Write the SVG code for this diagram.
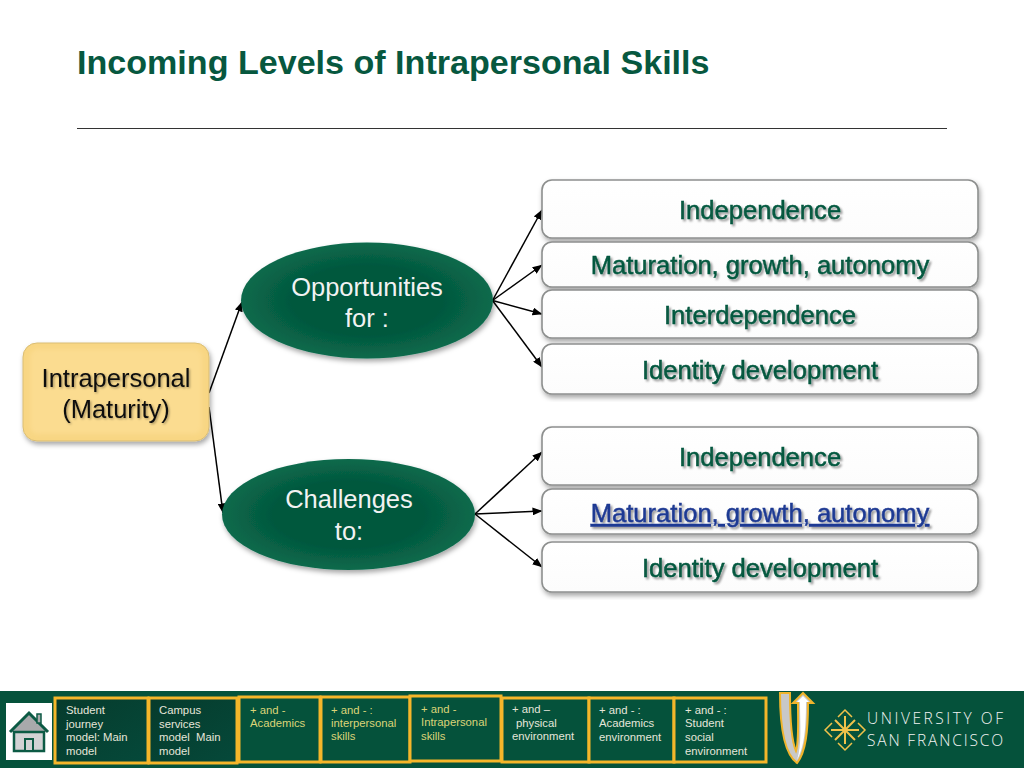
<svg xmlns="http://www.w3.org/2000/svg" width="1024" height="768" viewBox="0 0 1024 768">
<defs>
<radialGradient id="ell" cx="50%" cy="50%" r="50%"><stop offset="0" stop-color="#04583e"/><stop offset="0.6" stop-color="#04583e"/><stop offset="1" stop-color="#0a6a4c"/></radialGradient>
<linearGradient id="dark" x1="0" y1="0" x2="1" y2="1"><stop offset="0" stop-color="#063b2c"/><stop offset="1" stop-color="#05493a"/></linearGradient>
<linearGradient id="boxf" x1="0" y1="0" x2="0" y2="1"><stop offset="0" stop-color="#fff"/><stop offset="1" stop-color="#fcfcfc"/></linearGradient>
<filter id="sh" x="-10%" y="-10%" width="120%" height="125%"><feDropShadow dx="1.5" dy="3" stdDeviation="2.5" flood-color="#000" flood-opacity="0.35"/></filter>
<filter id="ts" x="-5%" y="-20%" width="110%" height="150%"><feDropShadow dx="2" dy="2" stdDeviation="1.3" flood-color="#000" flood-opacity="0.42"/></filter>
<filter id="ts2" x="-5%" y="-20%" width="110%" height="150%"><feDropShadow dx="1.2" dy="1.2" stdDeviation=".8" flood-color="#000" flood-opacity="0.35"/></filter>
<filter id="soft" x="-5%" y="-5%" width="110%" height="110%"><feGaussianBlur stdDeviation="2"/></filter>
<marker id="ah" markerWidth="10" markerHeight="8" refX="9.500" refY="4" orient="auto" markerUnits="userSpaceOnUse"><path d="M0 0L10 4L0 8Z" fill="#000"/></marker>
</defs>
<style>
text{font-family:"Liberation Sans",Arial,sans-serif}
.box{fill:url(#boxf);stroke:#8d8f8e;stroke-width:1.6}
.lbl{font-size:25.6px;fill:#07583f;text-anchor:middle;filter:url(#ts);stroke:#07583f;stroke-width:.5}
.ov{font-size:25.500px;fill:#f2f2f2;text-anchor:middle}
.cn{stroke:#000;stroke-width:1.500;fill:none;marker-end:url(#ah)}
.tile{stroke:#f5b62a;stroke-width:3;fill:#05523b}
.t1{font-size:11.3px;fill:#e6e6da}
.t2{font-size:11.3px;fill:#dcd478}
.uni{font-family:"Open Sans","Liberation Sans",sans-serif;font-weight:300;font-size:15.5px;fill:#f2f2f2}
</style>
<rect width="1024" height="768" fill="#fff"/>
<text x="77" y="74" font-size="34.100" font-weight="bold" fill="#07583f">Incoming Levels of Intrapersonal Skills</text>
<line x1="77" y1="128.500" x2="947" y2="128.500" stroke="#333" stroke-width="1"/>

<g id="connectors">
<path class="cn" d="M209 393L242 302"/>
<path class="cn" d="M209 407L223 513"/>
<path class="cn" d="M492.500 300.500L542 210"/>
<path class="cn" d="M492.500 300.500L542 265"/>
<path class="cn" d="M492.500 300.500L542 314"/>
<path class="cn" d="M492.500 300.500L542 367"/>
<path class="cn" d="M475 514L542 452"/>
<path class="cn" d="M475 514L542 511"/>
<path class="cn" d="M475 514L542 567"/>
</g>

<g id="n-opportunities"><ellipse cx="367" cy="300.500" rx="126" ry="58" fill="url(#ell)" filter="url(#sh)"/><text class="ov" x="367" y="296">Opportunities</text><text class="ov" x="367" y="327">for :</text></g>
<g id="n-challenges"><ellipse cx="348.500" cy="514.500" rx="126.500" ry="55.500" fill="url(#ell)" filter="url(#sh)"/><text class="ov" x="349" y="508">Challenges</text><text class="ov" x="349" y="540">to:</text></g>
<g id="n-intrapersonal"><rect x="23" y="343" width="186" height="98" rx="14" fill="#f8d683" stroke="#d9bd74" stroke-width="1" filter="url(#sh)"/><rect x="30" y="349" width="172" height="85" rx="8" fill="#fbdc90" filter="url(#soft)"/><text x="116" y="387" font-size="25.500" fill="#111" text-anchor="middle" filter="url(#ts2)">Intrapersonal</text><text x="116" y="418" font-size="25.500" fill="#111" text-anchor="middle" filter="url(#ts2)">(Maturity)</text></g>

<g id="n-a1"><rect class="box" x="542" y="180" width="436" height="58" rx="10" filter="url(#sh)"/><text class="lbl" x="760" y="219">Independence</text></g>
<g id="n-a2"><rect class="box" x="542" y="242" width="436" height="45" rx="10" filter="url(#sh)"/><text class="lbl" x="760" y="274">Maturation, growth, autonomy</text></g>
<g id="n-a3"><rect class="box" x="542" y="290" width="436" height="48" rx="10" filter="url(#sh)"/><text class="lbl" x="760" y="324">Interdependence</text></g>
<g id="n-a4"><rect class="box" x="542" y="344" width="436" height="50" rx="10" filter="url(#sh)"/><text class="lbl" x="760" y="379">Identity development</text></g>
<g id="n-b1"><rect class="box" x="542" y="427" width="436" height="58" rx="10" filter="url(#sh)"/><text class="lbl" x="760" y="466">Independence</text></g>
<g id="n-b2"><rect class="box" x="542" y="489" width="436" height="45" rx="10" filter="url(#sh)"/><text x="760" y="522" font-size="25.600" fill="#1f3a93" text-anchor="middle" text-decoration="underline" filter="url(#ts)" stroke="#1f3a93" stroke-width=".5">Maturation, growth, autonomy</text></g>
<g id="n-b3"><rect class="box" x="542" y="542" width="436" height="50" rx="10" filter="url(#sh)"/><text class="lbl" x="760" y="577">Identity development</text></g>

<g id="footer">
<rect x="0" y="691" width="1024" height="77" fill="#05523b"/>
<rect x="6" y="703" width="46" height="57" fill="#fff"/>
<g id="home"><path d="M10 732L29 713L48 732" fill="#a9a9ab" stroke="#0c5a44" stroke-width="3"/><rect x="37" y="714" width="4" height="9" fill="#a9a9ab" stroke="#0c5a44" stroke-width="1.500"/><rect x="14" y="732" width="30" height="19" fill="#d2d2d4" stroke="#0c5a44" stroke-width="2.500"/><rect x="25" y="739" width="8" height="12" fill="#d2d2d4" stroke="#0c5a44" stroke-width="2"/></g>
<g id="t1"><rect class="tile" x="55" y="698" width="93" height="65" style="fill:url(#dark)"/><text class="t1" x="66" y="714">Student</text><text class="t1" x="66" y="728">journey</text><text class="t1" x="66" y="741">model: Main</text><text class="t1" x="66" y="755">model</text></g>
<g id="t2"><rect class="tile" x="149" y="698" width="88" height="65" style="fill:url(#dark)"/><text class="t1" x="159" y="714">Campus</text><text class="t1" x="159" y="728">services</text><text class="t1" x="159" y="741" xml:space="preserve">model  Main</text><text class="t1" x="159" y="755">model</text></g>
<g id="t3"><rect class="tile" x="239" y="697" width="81" height="65"/><text class="t2" x="250" y="714">+ and -</text><text class="t2" x="250" y="727">Academics</text></g>
<g id="t4"><rect class="tile" x="321" y="697" width="89" height="65"/><text class="t2" x="331" y="714">+ and - :</text><text class="t2" x="331" y="727">interpersonal</text><text class="t2" x="331" y="740">skills</text></g>
<g id="t5"><rect class="tile" x="410" y="696" width="91" height="65"/><text class="t2" x="421" y="713">+ and -</text><text class="t2" x="421" y="726">Intrapersonal</text><text class="t2" x="421" y="740">skills</text></g>
<g id="t6"><rect class="tile" x="502" y="698" width="87" height="64"/><text class="t1" x="512" y="713">+ and –</text><text class="t1" x="516" y="727">physical</text><text class="t1" x="512" y="740">environment</text></g>
<g id="t7"><rect class="tile" x="589" y="698" width="85" height="64"/><text class="t1" x="599" y="714">+ and - :</text><text class="t1" x="599" y="727">Academics</text><text class="t1" x="599" y="741">environment</text></g>
<g id="t8"><rect class="tile" x="674" y="698" width="92" height="64"/><text class="t1" x="685" y="714">+ and - :</text><text class="t1" x="685" y="727">Student</text><text class="t1" x="685" y="741">social</text><text class="t1" x="685" y="755">environment</text></g>
<g id="uturn"><path d="M780 693H790C790 720 792 742 796 751C799 742 798 725 798 703H793L803 693L813 703H808C808 730 806 752 797 763C786 755 780 730 780 693Z" fill="#c8c8c8" stroke="#f0b42c" stroke-width="2"/><path d="M803 696L809 702H806C806 730 804 748 797 760C802 745 800 725 800 702H797Z" fill="#fff"/></g>
<g id="logo" fill="none" stroke="#f0c24a" stroke-width="1.500"><path d="M838 717L845 710L852 717M838 743L845 750L852 743M832 723L825 730L832 737M858 723L865 730L858 737"/><path d="M845 716V744M831 730H859M835 720L855 740M855 720L835 740" stroke-width="2"/></g>
<text class="uni" x="867" y="724" textLength="136" lengthAdjust="spacing">UNIVERSITY OF</text>
<text class="uni" x="867" y="746" textLength="136" lengthAdjust="spacing">SAN FRANCISCO</text>
</g>
</svg>
